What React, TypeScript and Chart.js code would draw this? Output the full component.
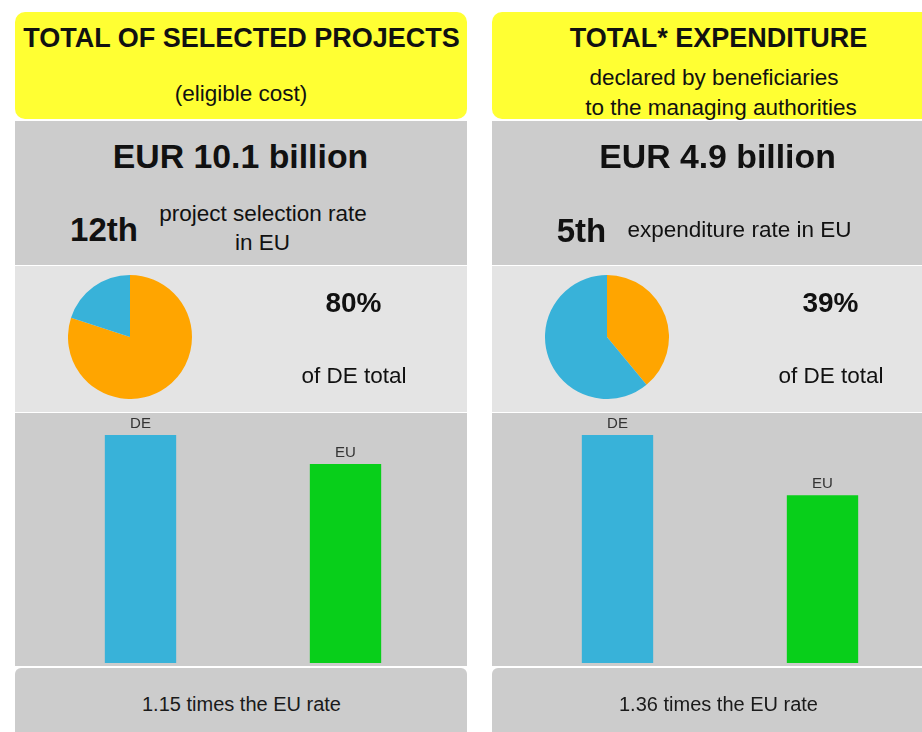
import React, { useEffect, useRef } from "react";
import { Chart, registerables } from "chart.js";

Chart.register(...registerables);

// ---- data ----
const panelTitles = ["TOTAL OF SELECTED PROJECTS", "TOTAL* EXPENDITURE"];
const panelSubtitles = [["(eligible cost)"], ["declared by beneficiaries", "to the managing authorities"]];
const panelAmounts = ["EUR 10.1 billion", "EUR 4.9 billion"];
const panelRanks = ["12th", "5th"];
const panelRankTexts = [["project selection rate", "in EU"], ["expenditure rate in EU"]];
const pieLabels = ["DE share", "Rest"];
const pieShares = [
  [80, 20],
  [39, 61],
];
const pieShareTexts = ["80%", "39%"];
const barCategories = ["DE", "EU"];
const barRates = [
  [80, 69.8],
  [39, 28.7],
];
const ratioTexts = ["1.15 times the EU rate", "1.36 times the EU rate"];

const FONT = "'Liberation Sans', Arial, Helvetica, sans-serif";
const YELLOW = "#ffff33";
const GRAY = "#cccccc";
const LIGHT = "#e4e4e4";
const BLUE = "#38b2d9";
const GREEN = "#08cf1a";
const ORANGE = "#ffa500";

Chart.defaults.font.family = FONT;

function T(props: { x: number; y: number; size: number; bold?: boolean; color?: string; children: React.ReactNode }) {
  const { x, y, size, bold, color, children } = props;
  return (
    <div
      style={{
        position: "absolute",
        left: x - 300,
        width: 600,
        top: y - size / 2,
        height: size,
        lineHeight: `${size}px`,
        fontSize: size,
        fontWeight: bold ? 700 : 400,
        textAlign: "center",
        whiteSpace: "nowrap",
        color: color || "#111",
        fontFamily: FONT,
      }}
    >
      {children}
    </div>
  );
}

function PieCanvas(props: { data: number[]; cx: number; cy: number }) {
  const ref = useRef<HTMLCanvasElement>(null);
  useEffect(() => {
    const chart = new Chart(ref.current!, {
      type: "pie",
      data: {
        labels: pieLabels,
        datasets: [{ data: props.data, backgroundColor: [ORANGE, BLUE], borderWidth: 0 }],
      },
      options: {
        responsive: false,
        animation: false,
        layout: { padding: 0 },
        plugins: { legend: { display: false }, tooltip: { enabled: false } },
      },
    });
    return () => chart.destroy();
  }, []);
  return (
    <canvas
      ref={ref}
      width={124}
      height={124}
      style={{ position: "absolute", left: props.cx - 62, top: props.cy - 62, width: 124, height: 124 }}
    />
  );
}

const barLabelPlugin = {
  id: "barLabels",
  afterDatasetsDraw(chart: any) {
    const ctx = chart.ctx;
    const meta = chart.getDatasetMeta(0);
    ctx.save();
    ctx.font = `15px ${FONT}`;
    ctx.fillStyle = "#333";
    ctx.textAlign = "center";
    ctx.textBaseline = "middle";
    meta.data.forEach((bar: any, i: number) => {
      ctx.fillText(chart.data.labels[i], bar.x, bar.y - 11.5);
    });
    ctx.restore();
  },
};

function BarCanvas(props: { data: number[]; left: number; top: number }) {
  const ref = useRef<HTMLCanvasElement>(null);
  useEffect(() => {
    const chart = new Chart(ref.current!, {
      type: "bar",
      data: {
        labels: barCategories,
        datasets: [
          {
            data: props.data,
            backgroundColor: [BLUE, GREEN],
            barPercentage: 0.348,
            categoryPercentage: 1,
            borderWidth: 0,
          },
        ],
      },
      options: {
        responsive: false,
        animation: false,
        layout: { padding: { left: 23, right: 19, top: 22, bottom: 3 } },
        scales: {
          x: { display: false },
          y: { display: false, min: 0, max: props.data[0] },
        },
        plugins: { legend: { display: false }, tooltip: { enabled: false } },
      },
      plugins: [barLabelPlugin],
    });
    return () => chart.destroy();
  }, []);
  return (
    <canvas
      ref={ref}
      width={452}
      height={253}
      style={{ position: "absolute", left: props.left, top: props.top, width: 452, height: 253 }}
    />
  );
}

function Box(props: { x: number; y: number; w: number; h: number; bg: string; radius?: string }) {
  return (
    <div
      style={{
        position: "absolute",
        left: props.x,
        top: props.y,
        width: props.w,
        height: props.h,
        background: props.bg,
        borderRadius: props.radius || 0,
      }}
    />
  );
}

function Panel(props: { i: number; ox: number }) {
  const { i, ox } = props;
  const cx = ox + 226; // panel centre
  const W = 452;
  return (
    <>
      <Box x={ox} y={12} w={W} h={107} bg={YELLOW} radius="10px" />
      <Box x={ox} y={121} w={W} h={144} bg={GRAY} />
      <Box x={ox} y={266} w={W} h={146} bg={LIGHT} />
      <Box x={ox} y={413} w={W} h={253} bg={GRAY} />
      <Box x={ox} y={668} w={W} h={90} bg={GRAY} radius="6px" />

      <T x={cx + 0.5} y={38} size={27} bold>
        {panelTitles[i]}
      </T>
      {i === 0 ? (
        <T x={cx} y={94} size={22.5}>
          {panelSubtitles[0][0]}
        </T>
      ) : (
        <>
          <T x={cx - 4} y={78} size={22.5}>
            {panelSubtitles[1][0]}
          </T>
          <T x={cx + 3} y={108} size={22.5}>
            {panelSubtitles[1][1]}
          </T>
        </>
      )}
      <T x={cx - 0.5} y={157} size={33.8} bold>
        {panelAmounts[i]}
      </T>
      {i === 0 ? (
        <>
          <T x={ox + 89} y={229} size={33} bold>
            {panelRanks[0]}
          </T>
          <T x={ox + 248} y={214} size={22.5}>
            {panelRankTexts[0][0]}
          </T>
          <T x={ox + 247.5} y={243} size={22.5}>
            {panelRankTexts[0][1]}
          </T>
        </>
      ) : (
        <>
          <T x={ox + 89.5} y={230} size={33} bold>
            {panelRanks[1]}
          </T>
          <T x={ox + 247.5} y={230} size={22.5}>
            {panelRankTexts[1][0]}
          </T>
        </>
      )}
      <PieCanvas data={pieShares[i]} cx={ox + 114.5} cy={337} />
      <T x={ox + 338.5} y={303} size={28} bold>
        {pieShareTexts[i]}
      </T>
      <T x={ox + 339} y={376} size={22.5}>
        of DE total
      </T>
      <BarCanvas data={barRates[i]} left={ox} top={413} />
      <T x={cx + 0.5} y={704} size={20} color="#1a1a1a">
        {ratioTexts[i]}
      </T>
    </>
  );
}

export default function App() {
  return (
    <div
      style={{
        position: "fixed",
        left: 0,
        top: 0,
        width: 922,
        height: 732,
        overflow: "hidden",
        background: "#ffffff",
        fontFamily: FONT,
      }}
    >
      <Panel i={0} ox={15} />
      <Panel i={1} ox={492} />
    </div>
  );
}
